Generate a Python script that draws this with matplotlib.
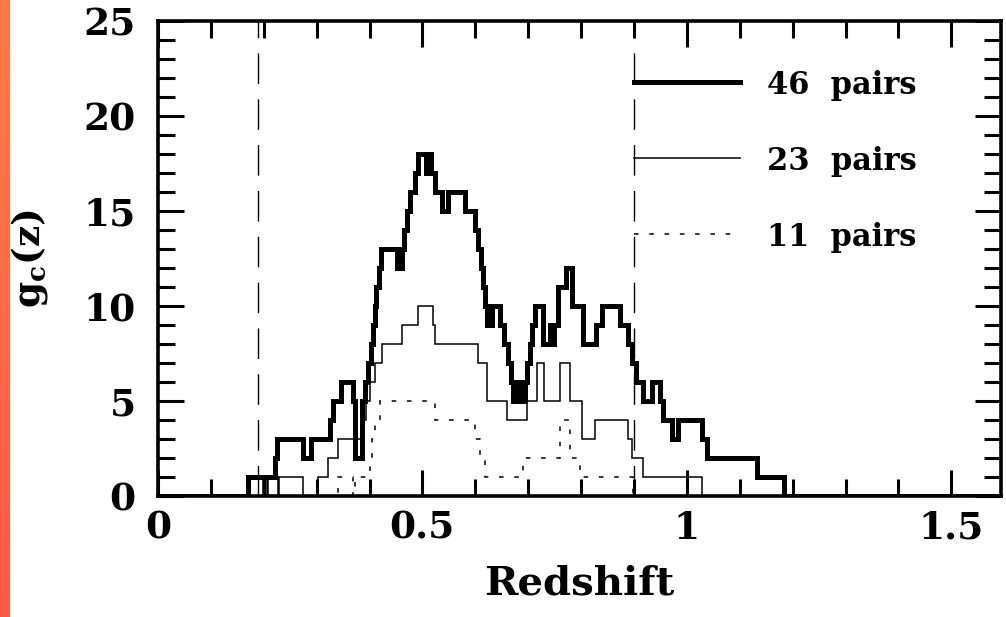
import numpy as np
import matplotlib
matplotlib.use('Agg')
import matplotlib.pyplot as plt

# step histograms: value from each edge to the next (last edge closes the curve)
z46 = [0.000, 0.170, 0.222, 0.225, 0.274, 0.289, 0.325, 0.330, 0.346, 0.369,
       0.372, 0.386, 0.392, 0.398, 0.403, 0.407, 0.410, 0.413, 0.417, 0.422,
       0.452, 0.461, 0.465, 0.470, 0.476, 0.486, 0.492, 0.506, 0.510, 0.516,
       0.523, 0.537, 0.548, 0.580, 0.599, 0.606, 0.611, 0.614, 0.618, 0.622,
       0.631, 0.647, 0.655, 0.662, 0.668, 0.671, 0.678, 0.688, 0.694, 0.697,
       0.703, 0.708, 0.713, 0.728, 0.741, 0.745, 0.749, 0.756, 0.771, 0.782,
       0.804, 0.829, 0.839, 0.873, 0.888, 0.896, 0.903, 0.917, 0.934, 0.949,
       0.955, 0.972, 0.983, 1.028, 1.038, 1.132, 1.184, 1.600]
g46 = [0, 1, 2, 3, 2, 3, 4, 5, 6, 5,
       2, 5, 6, 7, 8, 9, 10, 11, 12, 13,
       12, 13, 14, 15, 16, 17, 18, 17, 18, 17,
       16, 15, 16, 15, 14, 13, 12, 11, 10, 9,
       10, 9, 8, 7, 6, 5, 6, 5, 6, 7,
       8, 9, 10, 8, 9, 8, 9, 11, 12, 10,
       8, 9, 10, 9, 8, 7, 6, 5, 6, 5,
       4, 3, 4, 3, 2, 1, 0]

z23 = [0.000, 0.174, 0.198, 0.200, 0.206, 0.208, 0.226, 0.228, 0.274, 0.302,
       0.321, 0.340, 0.388, 0.394, 0.400, 0.410, 0.423, 0.461, 0.491, 0.520,
       0.524, 0.605, 0.622, 0.660, 0.697, 0.716, 0.730, 0.760, 0.779, 0.801,
       0.826, 0.888, 0.896, 0.917, 1.028, 1.600]
g23 = [0, 1, 0, 1, 0, 1, 0, 1, 0, 1,
       2, 3, 4, 5, 6, 7, 8, 9, 10, 9,
       8, 7, 5, 4, 5, 7, 5, 7, 5, 3,
       4, 3, 2, 1, 0]

z11 = [0.000, 0.340, 0.369, 0.372, 0.400, 0.404, 0.410, 0.420, 0.523, 0.600,
       0.609, 0.618, 0.690, 0.760, 0.779, 0.798, 0.898, 1.600]
g11 = [0, 1, 0, 1, 2, 3, 4, 5, 4, 3,
       2, 1, 2, 4, 2, 1, 0]

z_limits = [0.19, 0.9]
labels = ['46  pairs', '23  pairs', '11  pairs']
key_y = [21.8, 17.8, 13.8]

plt.rcParams['font.family'] = ['DejaVu Serif']
plt.rcParams['font.weight'] = 'bold'
plt.rcParams['mathtext.fontset'] = 'custom'
plt.rcParams['mathtext.rm'] = 'DejaVu Serif:bold'

fig = plt.figure(figsize=(10.06, 6.17), dpi=100)
fig.patch.set_facecolor('white')

# orange strip on the left edge
strip = fig.add_axes([0, 0, 10 / 1006, 1])
grad = np.linspace(0, 1, 100).reshape(-1, 1)
strip.imshow(grad, aspect='auto', cmap=matplotlib.colors.LinearSegmentedColormap.from_list(
    'stripe', ['#ff7a48', '#ff5a48']))
strip.axis('off')

ax = fig.add_axes([158 / 1006, 1 - 496 / 617, 843 / 1006, 475 / 617])

ax.stairs(g46, z46, color='black', lw=3.6)
ax.stairs(g23, z23, color='black', lw=1.1)
ax.stairs(g11, z11, color='black', lw=1.1, linestyle=(0, (3, 7)))

for z in z_limits:
    ax.axvline(z, color='black', lw=1.0, linestyle=(0, (22, 11)))

# key
styles = [dict(lw=3.6), dict(lw=1.1), dict(lw=1.1, linestyle=(0, (3, 7)))]
for lab, y, st in zip(labels, key_y, styles):
    ax.plot([0.9, 1.1], [y, y], color='black', **st)
    ax.text(1.152, y, lab, fontsize=22, fontweight='bold',
            va='center_baseline', ha='left')

ax.set_xlim(0, 1.594)
ax.set_ylim(0, 25)
ax.set_xticks([0, 0.5, 1, 1.5])
ax.set_xticklabels(['0', '0.5', '1', '1.5'])
ax.set_xticks(np.arange(0, 1.6, 0.1), minor=True)
ax.set_yticks([0, 5, 10, 15, 20, 25])
ax.set_yticks(np.arange(0, 26, 1), minor=True)

ax.tick_params(which='both', direction='in', top=True, right=True, width=2.2)
ax.tick_params(which='major', length=19, labelsize=27)
ax.tick_params(which='minor', length=12)
ax.tick_params(axis='x', which='major', pad=10)
ax.tick_params(axis='y', which='major', pad=16)
for sp in ax.spines.values():
    sp.set_linewidth(2.6)

ax.set_xlabel('Redshift', fontsize=29, fontweight='bold')
ax.set_ylabel(r'g$_\mathrm{c}$(z)', fontsize=27, fontweight='bold')
ax.xaxis.set_label_coords(0.5, -0.145)
ax.yaxis.set_label_coords(-0.128, 0.5)

fig.savefig('out.png', dpi=100)
